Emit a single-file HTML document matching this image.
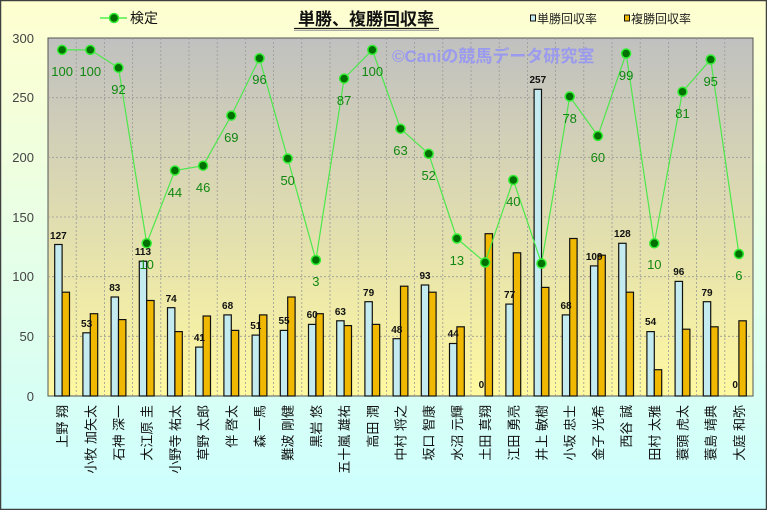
<!DOCTYPE html>
<html><head><meta charset="utf-8"><style>
html,body{margin:0;padding:0;width:767px;height:510px;overflow:hidden}
svg{display:block;font-family:"Liberation Sans","Noto Sans CJK JP",sans-serif}
</style></head><body>
<svg width="767" height="510" viewBox="0 0 767 510" xmlns="http://www.w3.org/2000/svg">
<defs>
<linearGradient id="bg" x1="0" y1="0" x2="0" y2="1"><stop offset="0" stop-color="#ffffd0"/><stop offset="1" stop-color="#ccffff"/></linearGradient>
<linearGradient id="pl" x1="0" y1="0" x2="0" y2="1"><stop offset="0" stop-color="#c0c0c0"/><stop offset="1" stop-color="#fff9a0"/></linearGradient>
</defs>
<rect x="0.5" y="0.5" width="766" height="509" fill="url(#bg)" stroke="#404040" stroke-width="1.5"/>
<rect x="48" y="38" width="705" height="358" fill="url(#pl)" stroke="#555" stroke-width="1"/>
<g stroke="#999" stroke-width="0.8" stroke-dasharray="2,2">
<line x1="48" y1="97.7" x2="753" y2="97.7"/><line x1="48" y1="157.3" x2="753" y2="157.3"/><line x1="48" y1="217" x2="753" y2="217"/><line x1="48" y1="276.7" x2="753" y2="276.7"/><line x1="48" y1="336.3" x2="753" y2="336.3"/>
<line x1="76.2" y1="38" x2="76.2" y2="396"/><line x1="104.4" y1="38" x2="104.4" y2="396"/><line x1="132.6" y1="38" x2="132.6" y2="396"/><line x1="160.8" y1="38" x2="160.8" y2="396"/><line x1="189" y1="38" x2="189" y2="396"/><line x1="217.2" y1="38" x2="217.2" y2="396"/><line x1="245.4" y1="38" x2="245.4" y2="396"/><line x1="273.6" y1="38" x2="273.6" y2="396"/><line x1="301.8" y1="38" x2="301.8" y2="396"/><line x1="330" y1="38" x2="330" y2="396"/><line x1="358.2" y1="38" x2="358.2" y2="396"/><line x1="386.4" y1="38" x2="386.4" y2="396"/><line x1="414.6" y1="38" x2="414.6" y2="396"/><line x1="442.8" y1="38" x2="442.8" y2="396"/><line x1="471" y1="38" x2="471" y2="396"/><line x1="499.2" y1="38" x2="499.2" y2="396"/><line x1="527.4" y1="38" x2="527.4" y2="396"/><line x1="555.6" y1="38" x2="555.6" y2="396"/><line x1="583.8" y1="38" x2="583.8" y2="396"/><line x1="612" y1="38" x2="612" y2="396"/><line x1="640.2" y1="38" x2="640.2" y2="396"/><line x1="668.4" y1="38" x2="668.4" y2="396"/><line x1="696.6" y1="38" x2="696.6" y2="396"/><line x1="724.8" y1="38" x2="724.8" y2="396"/>
</g>
<g font-size="13" fill="#444" text-anchor="end">
<text x="34" y="43">300</text><text x="34" y="102">250</text><text x="34" y="162">200</text><text x="34" y="222">150</text><text x="34" y="281">100</text><text x="34" y="341">50</text><text x="34" y="401">0</text>
</g>
<text x="392" y="62" font-size="17" font-weight="bold" fill="#9a9aee">©Caniの競馬データ研究室</text>
<g stroke="#111" stroke-width="1.2">
<g fill="#c4ecf0">
<rect x="54.7" y="244.5" width="7.4" height="151.5"/><rect x="82.9" y="332.8" width="7.4" height="63.2"/><rect x="111.1" y="297" width="7.4" height="99"/><rect x="139.3" y="261.2" width="7.4" height="134.8"/><rect x="167.5" y="307.7" width="7.4" height="88.3"/><rect x="195.7" y="347.1" width="7.4" height="48.9"/><rect x="223.9" y="314.9" width="7.4" height="81.1"/><rect x="252.1" y="335.1" width="7.4" height="60.9"/><rect x="280.3" y="330.4" width="7.4" height="65.6"/><rect x="308.5" y="324.4" width="7.4" height="71.6"/><rect x="336.7" y="320.8" width="7.4" height="75.2"/><rect x="364.9" y="301.7" width="7.4" height="94.3"/><rect x="393.1" y="338.7" width="7.4" height="57.3"/><rect x="421.3" y="285" width="7.4" height="111"/><rect x="449.5" y="343.5" width="7.4" height="52.5"/><rect x="505.9" y="304.1" width="7.4" height="91.9"/><rect x="534.1" y="89.3" width="7.4" height="306.7"/><rect x="562.3" y="314.9" width="7.4" height="81.1"/><rect x="590.5" y="265.9" width="7.4" height="130.1"/><rect x="618.7" y="243.3" width="7.4" height="152.7"/><rect x="646.9" y="331.6" width="7.4" height="64.4"/><rect x="675.1" y="281.4" width="7.4" height="114.6"/><rect x="703.3" y="301.7" width="7.4" height="94.3"/>
</g>
<g fill="#f0b800">
<rect x="62.1" y="292.2" width="7.4" height="103.8"/><rect x="90.3" y="313.7" width="7.4" height="82.3"/><rect x="118.5" y="319.6" width="7.4" height="76.4"/><rect x="146.7" y="300.5" width="7.4" height="95.5"/><rect x="174.9" y="331.6" width="7.4" height="64.4"/><rect x="203.1" y="316" width="7.4" height="80"/><rect x="231.3" y="330.4" width="7.4" height="65.6"/><rect x="259.5" y="314.9" width="7.4" height="81.1"/><rect x="287.7" y="297" width="7.4" height="99"/><rect x="315.9" y="313.7" width="7.4" height="82.3"/><rect x="344.1" y="325.6" width="7.4" height="70.4"/><rect x="372.3" y="324.4" width="7.4" height="71.6"/><rect x="400.5" y="286.2" width="7.4" height="109.8"/><rect x="428.7" y="292.2" width="7.4" height="103.8"/><rect x="456.9" y="326.8" width="7.4" height="69.2"/><rect x="485.1" y="233.7" width="7.4" height="162.3"/><rect x="513.3" y="252.8" width="7.4" height="143.2"/><rect x="541.5" y="287.4" width="7.4" height="108.6"/><rect x="569.7" y="238.5" width="7.4" height="157.5"/><rect x="597.9" y="255.2" width="7.4" height="140.8"/><rect x="626.1" y="292.2" width="7.4" height="103.8"/><rect x="654.3" y="369.7" width="7.4" height="26.3"/><rect x="682.5" y="329.2" width="7.4" height="66.8"/><rect x="710.7" y="326.8" width="7.4" height="69.2"/><rect x="738.9" y="320.8" width="7.4" height="75.2"/>
</g></g>
<g font-size="10" font-weight="bold" fill="#111" text-anchor="middle">
<text x="58.4" y="239">127</text><text x="86.6" y="327">53</text><text x="114.8" y="291">83</text><text x="143" y="255">113</text><text x="171.2" y="302">74</text><text x="199.4" y="341">41</text><text x="227.6" y="309">68</text><text x="255.8" y="329">51</text><text x="284" y="324">55</text><text x="312.2" y="318">60</text><text x="340.4" y="315">63</text><text x="368.6" y="296">79</text><text x="396.8" y="333">48</text><text x="425" y="279">93</text><text x="453.2" y="337">44</text><text x="481.4" y="388">0</text><text x="509.6" y="298">77</text><text x="537.8" y="83">257</text><text x="566" y="309">68</text><text x="594.2" y="260">109</text><text x="622.4" y="237">128</text><text x="650.6" y="325">54</text><text x="678.8" y="275">96</text><text x="707" y="296">79</text><text x="735.2" y="388">0</text>
</g>
<polyline fill="none" stroke="#4ce84c" stroke-width="1.2" points="62.1,49.9 90.3,49.9 118.5,67.8 146.7,243.3 174.9,170.5 203.1,165.7 231.3,115.6 259.5,58.3 287.7,158.5 315.9,260 344.1,78.6 372.3,49.9 400.5,128.7 428.7,153.8 456.9,238.5 485.1,262.4 513.3,180 541.5,263.5 569.7,96.5 597.9,135.9 626.1,53.5 654.3,243.3 682.5,91.7 710.7,59.5 738.9,254"/>
<g fill="#007000" stroke="#33ee33" stroke-width="1.5">
<circle cx="62.1" cy="49.9" r="4.5"/><circle cx="90.3" cy="49.9" r="4.5"/><circle cx="118.5" cy="67.8" r="4.5"/><circle cx="146.7" cy="243.3" r="4.5"/><circle cx="174.9" cy="170.5" r="4.5"/><circle cx="203.1" cy="165.7" r="4.5"/><circle cx="231.3" cy="115.6" r="4.5"/><circle cx="259.5" cy="58.3" r="4.5"/><circle cx="287.7" cy="158.5" r="4.5"/><circle cx="315.9" cy="260" r="4.5"/><circle cx="344.1" cy="78.6" r="4.5"/><circle cx="372.3" cy="49.9" r="4.5"/><circle cx="400.5" cy="128.7" r="4.5"/><circle cx="428.7" cy="153.8" r="4.5"/><circle cx="456.9" cy="238.5" r="4.5"/><circle cx="485.1" cy="262.4" r="4.5"/><circle cx="513.3" cy="180" r="4.5"/><circle cx="541.5" cy="263.5" r="4.5"/><circle cx="569.7" cy="96.5" r="4.5"/><circle cx="597.9" cy="135.9" r="4.5"/><circle cx="626.1" cy="53.5" r="4.5"/><circle cx="654.3" cy="243.3" r="4.5"/><circle cx="682.5" cy="91.7" r="4.5"/><circle cx="710.7" cy="59.5" r="4.5"/><circle cx="738.9" cy="254" r="4.5"/>
</g>
<g font-size="13" fill="#118811" text-anchor="middle">
<text x="62.1" y="76">100</text><text x="90.3" y="76">100</text><text x="118.5" y="94">92</text><text x="146.7" y="269">10</text><text x="174.9" y="197">44</text><text x="203.1" y="192">46</text><text x="231.3" y="142">69</text><text x="259.5" y="84">96</text><text x="287.7" y="185">50</text><text x="315.9" y="286">3</text><text x="344.1" y="105">87</text><text x="372.3" y="76">100</text><text x="400.5" y="155">63</text><text x="428.7" y="180">52</text><text x="456.9" y="265">13</text><text x="513.3" y="206">40</text><text x="569.7" y="123">78</text><text x="597.9" y="162">60</text><text x="626.1" y="80">99</text><text x="654.3" y="269">10</text><text x="682.5" y="118">81</text><text x="710.7" y="86">95</text><text x="738.9" y="280">6</text>
</g>
<g font-size="13" fill="#111">
<text transform="translate(62.1,405) rotate(-90)" text-anchor="end" dy="5">上野 翔</text>
<text transform="translate(90.3,405) rotate(-90)" text-anchor="end" dy="5">小牧 加矢太</text>
<text transform="translate(118.5,405) rotate(-90)" text-anchor="end" dy="5">石神 深一</text>
<text transform="translate(146.7,405) rotate(-90)" text-anchor="end" dy="5">大江原 圭</text>
<text transform="translate(174.9,405) rotate(-90)" text-anchor="end" dy="5">小野寺 祐太</text>
<text transform="translate(203.1,405) rotate(-90)" text-anchor="end" dy="5">草野 太郎</text>
<text transform="translate(231.3,405) rotate(-90)" text-anchor="end" dy="5">伴 啓太</text>
<text transform="translate(259.5,405) rotate(-90)" text-anchor="end" dy="5">森 一馬</text>
<text transform="translate(287.7,405) rotate(-90)" text-anchor="end" dy="5">難波 剛健</text>
<text transform="translate(315.9,405) rotate(-90)" text-anchor="end" dy="5">黒岩 悠</text>
<text transform="translate(344.1,405) rotate(-90)" text-anchor="end" dy="5">五十嵐 雄祐</text>
<text transform="translate(372.3,405) rotate(-90)" text-anchor="end" dy="5">高田 潤</text>
<text transform="translate(400.5,405) rotate(-90)" text-anchor="end" dy="5">中村 将之</text>
<text transform="translate(428.7,405) rotate(-90)" text-anchor="end" dy="5">坂口 智康</text>
<text transform="translate(456.9,405) rotate(-90)" text-anchor="end" dy="5">水沼 元輝</text>
<text transform="translate(485.1,405) rotate(-90)" text-anchor="end" dy="5">土田 真翔</text>
<text transform="translate(513.3,405) rotate(-90)" text-anchor="end" dy="5">江田 勇亮</text>
<text transform="translate(541.5,405) rotate(-90)" text-anchor="end" dy="5">井上 敏樹</text>
<text transform="translate(569.7,405) rotate(-90)" text-anchor="end" dy="5">小坂 忠士</text>
<text transform="translate(597.9,405) rotate(-90)" text-anchor="end" dy="5">金子 光希</text>
<text transform="translate(626.1,405) rotate(-90)" text-anchor="end" dy="5">西谷 誠</text>
<text transform="translate(654.3,405) rotate(-90)" text-anchor="end" dy="5">田村 太雅</text>
<text transform="translate(682.5,405) rotate(-90)" text-anchor="end" dy="5">蓑頭 虎太</text>
<text transform="translate(710.7,405) rotate(-90)" text-anchor="end" dy="5">蓑島 靖典</text>
<text transform="translate(738.9,405) rotate(-90)" text-anchor="end" dy="5">大庭 和弥</text>
</g>
<line x1="100" y1="18" x2="127" y2="18" stroke="#33ee33" stroke-width="1.2"/>
<circle cx="114" cy="18" r="4.5" fill="#007000" stroke="#33ee33" stroke-width="1.5"/>
<text x="130" y="23" font-size="14" fill="#111">検定</text>
<text x="366" y="25" font-size="17" font-weight="bold" fill="#111" text-anchor="middle">単勝、複勝回収率</text>
<line x1="294" y1="28.5" x2="439" y2="28.5" stroke="#111" stroke-width="1.3"/>
<line x1="294" y1="30.5" x2="439" y2="30.5" stroke="#aaa" stroke-width="1"/>
<rect x="530.5" y="15" width="5" height="6" fill="#c4ecf0" stroke="#111"/>
<text x="537" y="23" font-size="12" fill="#222">単勝回収率</text>
<rect x="624.5" y="15" width="5" height="6" fill="#f0b800" stroke="#111"/>
<text x="631" y="23" font-size="12" fill="#222">複勝回収率</text>
</svg>
</body></html>
